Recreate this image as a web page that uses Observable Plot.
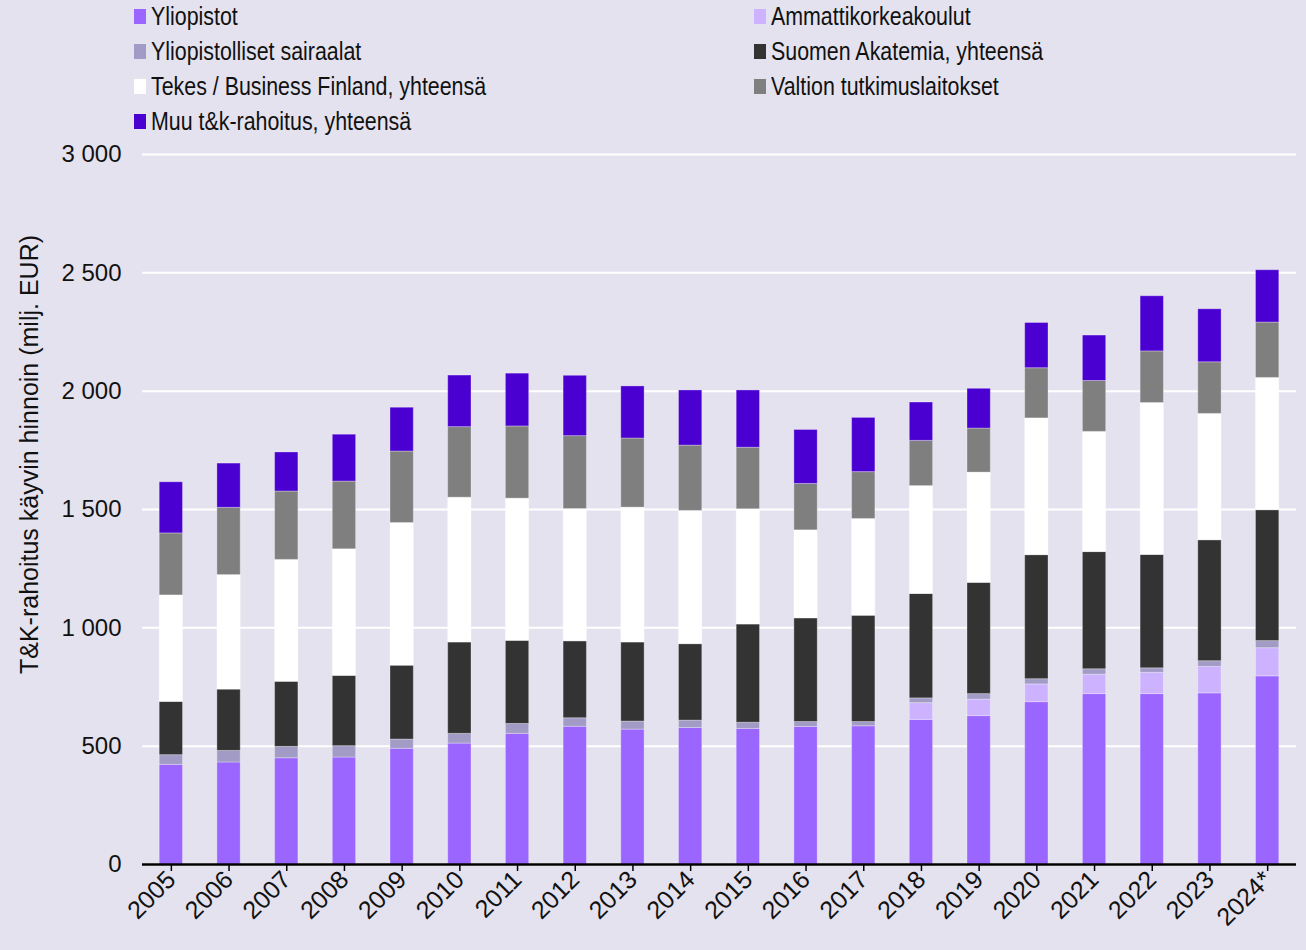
<!DOCTYPE html>
<html>
<head>
<meta charset="utf-8">
<script src="https://cdn.jsdelivr.net/npm/d3@7"></script>
<script src="https://cdn.jsdelivr.net/npm/@observablehq/plot@0.6"></script>
<style>
  html, body { margin: 0; padding: 0; background: #e4e2ee; }
  body { width: 1306px; height: 950px; overflow: hidden; }
  #legend { position: relative; height: 140px; width: 1306px;
    font-family: "Liberation Sans", Arial, sans-serif; font-size: 25px; color: #111; }
  .item { position: absolute; display: flex; align-items: center; white-space: nowrap; }
  .sw { width: 12px; height: 15px; margin-right: 5px; flex: none; }
  .lt { display: inline-block; transform: scaleX(0.855); transform-origin: left center; }
  #chart svg { display: block; }
</style>
</head>
<body>
<div id="legend"></div>
<div id="chart"></div>
<script>
const years = ["2005","2006","2007","2008","2009","2010","2011","2012","2013","2014","2015","2016","2017","2018","2019","2020","2021","2022","2023","2024*"];
const seriesNames = ["Yliopistot","Ammattikorkeakoulut","Yliopistolliset sairaalat","Suomen Akatemia, yhteensä","Tekes / Business Finland, yhteensä","Valtion tutkimuslaitokset","Muu t&k-rahoitus, yhteensä"];
const seriesColors = ["#9b66ff","#cdb3ff","#a29bc6","#333333","#ffffff","#7f7f7f","#4b00d2"];
const yliopistot = [421,431,449,452,489,511,552,582,570,577,573,581,584,611,627,686,720,720,723,795];
const ammattikorkeakoulut = [0,0,0,0,0,0,0,0,0,0,0,0,0,71,70,75,82,90,112,119];
const sairaalat = [41,49,48,48,39,41,42,36,34,31,26,21,18,20,23,22,23,19,24,30];
const akatemia = [225,259,275,297,312,386,351,325,334,323,415,438,449,441,470,524,495,479,511,553];
const tekes = [450,484,515,535,603,612,601,559,570,563,487,372,409,456,466,578,508,642,534,559];
const valtion = [262,284,289,286,302,298,305,308,292,276,260,196,198,191,186,212,215,218,218,234];
const muu = [216,187,165,198,185,218,223,255,220,233,242,228,229,162,168,191,192,233,224,221];
const yTicks = [0,500,1000,1500,2000,2500,3000];
const yLabel = "T&K-rahoitus käyvin hinnoin (milj. EUR)";

const seriesValues = [yliopistot, ammattikorkeakoulut, sairaalat, akatemia, tekes, valtion, muu];
const rows = [];
years.forEach((yr, i) => {
  seriesNames.forEach((s, j) => rows.push({year: yr, series: s, value: seriesValues[j][i]}));
});

// Legend (HTML, two columns)
const legend = document.getElementById("legend");
seriesNames.forEach((s, j) => {
  const col = j % 2, row = Math.floor(j / 2);
  const el = document.createElement("div");
  el.className = "item";
  el.style.left = (col === 0 ? 134 : 754) + "px";
  el.style.top = (row * 35 + 1) + "px";
  el.style.height = "30px";
  const sw = document.createElement("span");
  sw.className = "sw";
  sw.style.background = seriesColors[j];
  const tx = document.createElement("span");
  tx.className = "lt";
  tx.textContent = s;
  el.appendChild(sw); el.appendChild(tx);
  legend.appendChild(el);
});

const fmt = d => d3.format(",")(d).replace(/,/g, " ");

const chart = Plot.plot({
  width: 1306,
  height: 810,
  marginLeft: 142,
  marginRight: 10,
  marginTop: 14,
  marginBottom: 86,
  style: {background: "transparent", fontFamily: "'Liberation Sans', Arial, sans-serif", fontSize: "24px", color: "#111"},
  x: {type: "band", domain: years, paddingInner: 0.596, paddingOuter: 0.298, round: false, label: null},
  y: {domain: [0, 3000], label: null},
  color: {domain: seriesNames, range: seriesColors},
  marks: [
    Plot.gridY(yTicks, {stroke: "white", strokeOpacity: 1, strokeWidth: 2}),
    Plot.barY(rows, {x: "year", y: "value", z: "series", fill: "series", order: seriesNames,
      stroke: "white", strokeOpacity: 0.3, strokeWidth: 1}),
    Plot.ruleY([0], {stroke: "black", strokeWidth: 2.5}),
    Plot.axisY(yTicks, {tickSize: 0, tickPadding: 21, tickFormat: fmt, fontSize: 24, label: null}),
    Plot.axisX({tickSize: 7, tickPadding: 4, tickRotate: -45, fontSize: 25, label: null, stroke: "black", strokeWidth: 1.5}),
    Plot.text([yLabel], {frameAnchor: "left", text: d => d, rotate: -90, dx: -113, dy: -55, fontSize: 25, lineAnchor: "middle", textAnchor: "middle"})
  ]
});
document.getElementById("chart").appendChild(chart);
</script>
</body>
</html>
